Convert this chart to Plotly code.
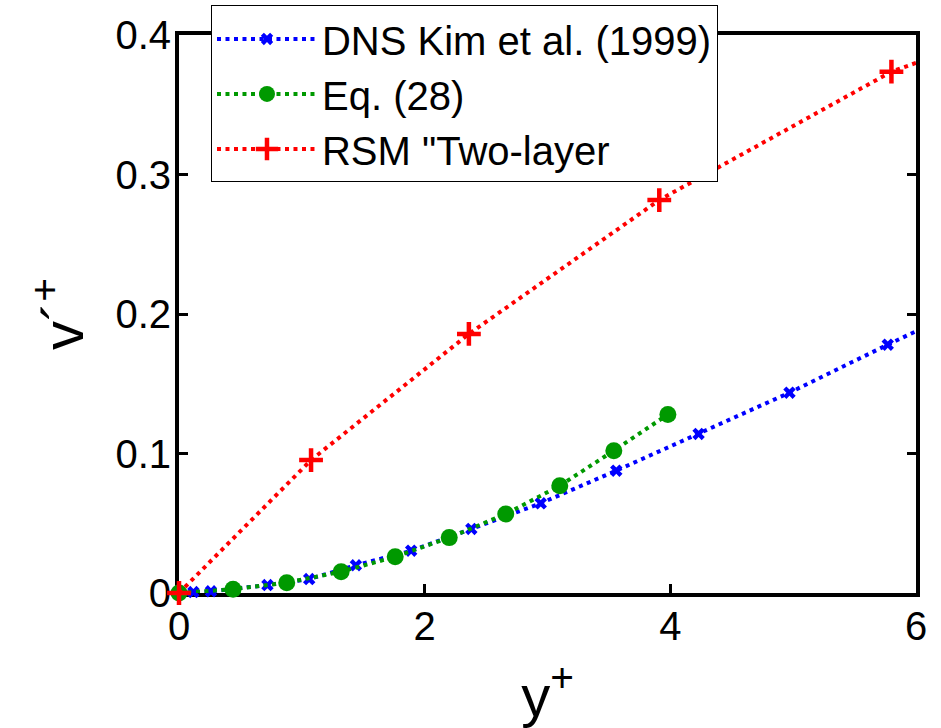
import plotly.graph_objects as go

# ---- data ----
dns_x = [0, 0.117, 0.26, 0.72, 1.06, 1.44, 1.89, 2.38, 2.945, 3.56, 4.23, 4.97, 5.77, 6.63]
dns_y = [0, 0.0007, 0.0012, 0.0057, 0.010, 0.0199, 0.0303, 0.0459, 0.0643, 0.0877, 0.114, 0.1436, 0.178, 0.214]

eq_x = [0, 0.44, 0.877, 1.32, 1.76, 2.2, 2.66, 3.10, 3.54, 3.98]
eq_y = [0, 0.0027, 0.0074, 0.0153, 0.026, 0.0397, 0.0566, 0.0769, 0.102, 0.128]

rsm_x = [0, 1.075, 2.36, 3.91, 5.80, 7.9]
rsm_y = [0, 0.0953, 0.1857, 0.2817, 0.3737, 0.44]

names = ["DNS Kim et al. (1999)", "Eq. (28)", "RSM \"Two-layer"]
x_ticks = [0, 2, 4, 6]
y_ticks = [0, 0.1, 0.2, 0.3, 0.4]
y_ticktext = ["0", "0.1", "0.2", "0.3", "0.4"]

FONT = "Liberation Sans, Arial, sans-serif"
DASH = "4px,4.5px"

fig = go.Figure()
fig.add_trace(go.Scatter(
    x=dns_x, y=dns_y, name=names[0], mode="lines+markers",
    line=dict(color="#0000ff", width=4, dash=DASH),
    marker=dict(symbol="x", size=11, color="#0000ff"),
    cliponaxis=False))
fig.add_trace(go.Scatter(
    x=eq_x, y=eq_y, name=names[1], mode="lines+markers",
    line=dict(color="#009900", width=4, dash=DASH),
    marker=dict(symbol="circle", size=17, color="#009900"),
    cliponaxis=False))
fig.add_trace(go.Scatter(
    x=rsm_x, y=rsm_y, name=names[2], mode="lines+markers",
    line=dict(color="#ff0000", width=4, dash=DASH),
    marker=dict(symbol="cross-thin", size=17, color="#ff0000",
                line=dict(color="#ff0000", width=4.5)),
    cliponaxis=False))

fig.update_layout(
    width=941, height=728,
    margin=dict(l=179, r=25, t=35, b=135, autoexpand=False),
    paper_bgcolor="white", plot_bgcolor="white",
    font=dict(family=FONT, size=40, color="black"),
    showlegend=True,
    legend=dict(
        x=0.0434, y=1.053, xanchor="left", yanchor="top",
        bgcolor="white", bordercolor="black", borderwidth=1,
        font=dict(family=FONT, size=40, color="black"),
        itemwidth=100, tracegroupgap=0,
    ),
)
fig.update_xaxes(
    range=[0, 6], tickmode="array", tickvals=x_ticks,
    ticks="inside", ticklen=9, tickwidth=3, tickcolor="black",
    showline=True, linewidth=4, linecolor="black", mirror="ticks",
    showgrid=False, zeroline=False, layer="below traces",
    tickfont=dict(family=FONT, size=40), ticklabelstandoff=-5,
    title=dict(text="y<sup>+</sup>", font=dict(family=FONT, size=58), standoff=32),
)
fig.update_yaxes(
    range=[0, 0.4], tickmode="array", tickvals=y_ticks, ticktext=y_ticktext,
    ticks="inside", ticklen=9, tickwidth=3, tickcolor="black",
    showline=True, linewidth=4, linecolor="black", mirror="ticks",
    showgrid=False, zeroline=False, layer="below traces",
    tickfont=dict(family=FONT, size=40), ticklabelstandoff=-4,
    title=dict(text="v´<sup>+</sup>", font=dict(family=FONT, size=58), standoff=14),
)

fig.write_html("out.html")
